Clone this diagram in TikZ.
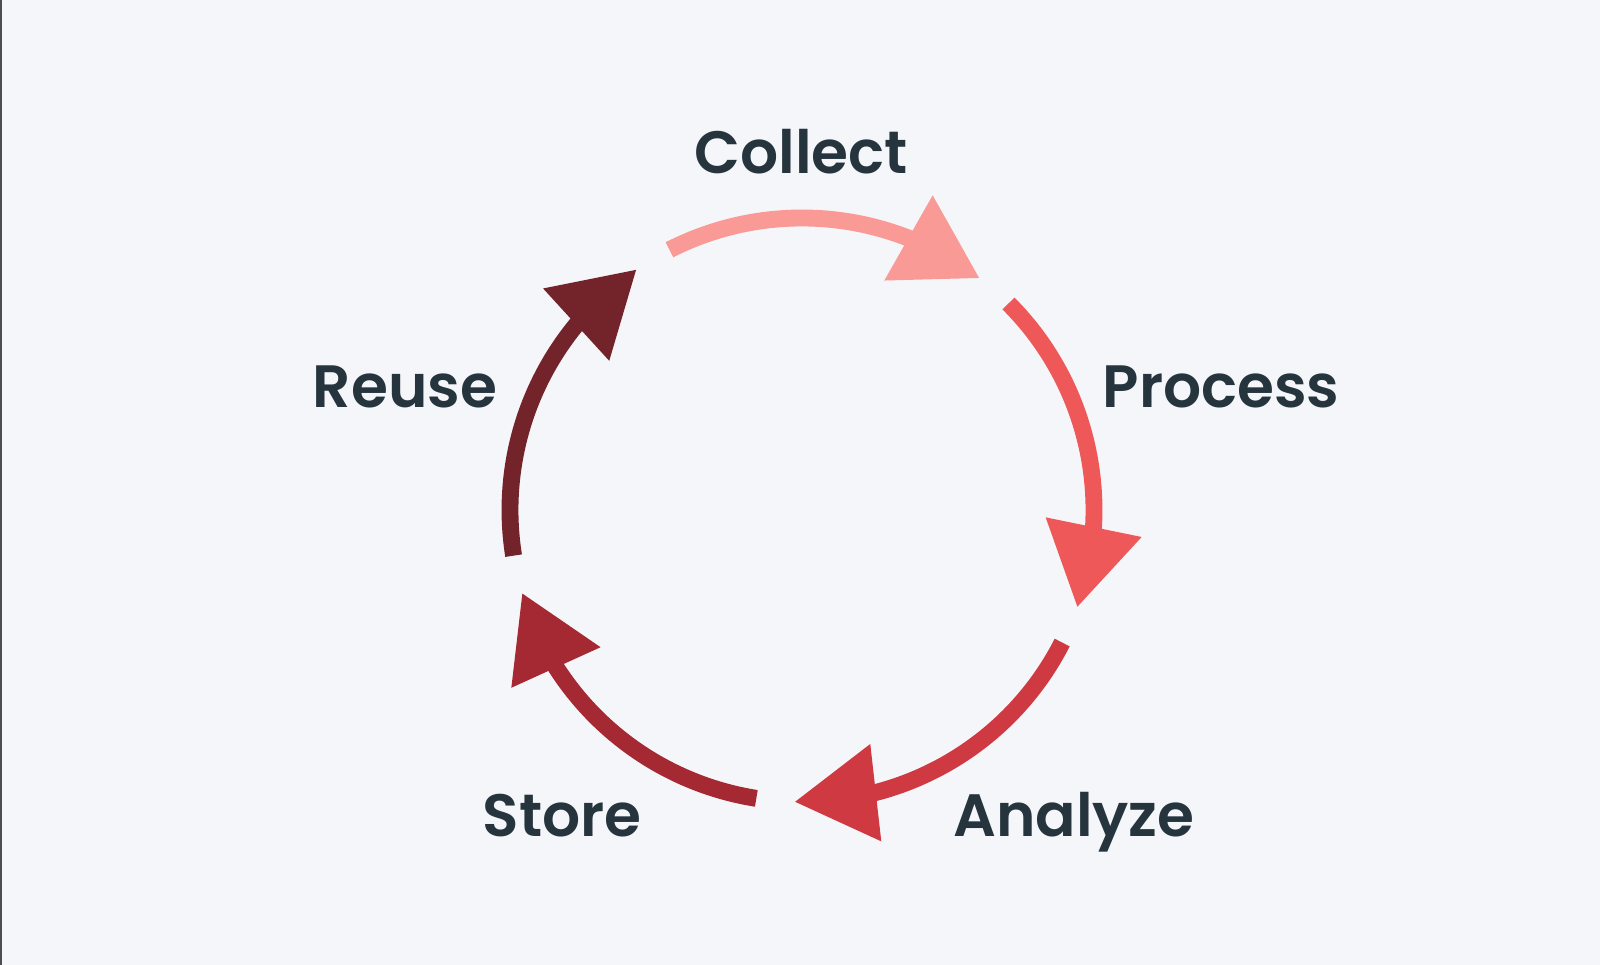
\documentclass[tikz,border=0pt]{standalone}
\usepackage{fontspec}
\setmainfont{Poppins}[BoldFont={Poppins SemiBold}]
\usepackage{xcolor}
\usetikzlibrary{arrows.meta,bending}
\definecolor{pagebg}{HTML}{F5F6FA}
\definecolor{edgegray}{HTML}{4A4E55}
\definecolor{labelink}{HTML}{26343E}
\definecolor{collectred}{HTML}{F99A96}
\definecolor{processred}{HTML}{EF5858}
\definecolor{analyzered}{HTML}{CF3A42}
\definecolor{storered}{HTML}{A42932}
\definecolor{reusered}{HTML}{73242A}

\begin{document}
\begin{tikzpicture}[x=0.01cm, y=0.01cm,
    stage/.style={font=\fontsize{17}{20}\selectfont\bfseries, text=labelink, inner sep=0pt, anchor=base},
    cyclearc/.style={line width=4.8pt, -{Triangle[length=23.3pt, width=26.5pt, flex]}}]
  % page
  \fill[pagebg] (0,0) rectangle (1600,965);
  \fill[edgegray] (0,0) rectangle (2,965);
  \coordinate (hub) at (802,455);

  % the five stages of the cycle
  \foreach \name/\col/\from in {collect/collectred/117, process/processred/45,
      analyze/analyzered/-27, store/storered/-99, reuse/reusered/-171}{
    \coordinate (\name-start) at ([shift={(\from:292)}]hub);
    \draw[cyclearc, \col] (\name-start) arc[start angle=\from, delta angle=-64.5, radius=292];
  }

  \node[stage] (collect) at (801,791) {Collect};
  \node[stage] (process) at (1221,557) {Process};
  \node[stage] (analyze) at (1074,128) {Analyze};
  \node[stage] (store)   at (562,128)  {Store};
  \node[stage] (reuse)   at (405,557)  {Reuse};
\end{tikzpicture}
\end{document}
